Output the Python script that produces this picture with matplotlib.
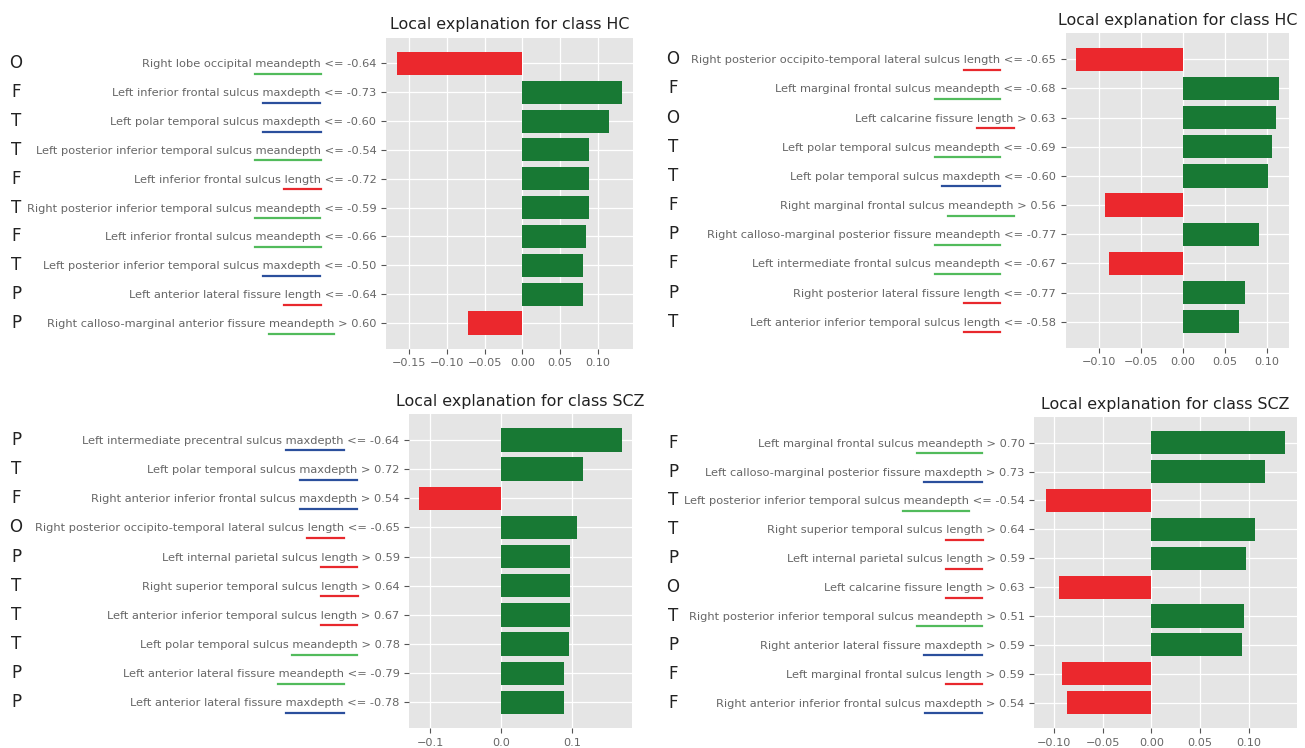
import numpy as np
import matplotlib
matplotlib.use("Agg")
import matplotlib.pyplot as plt
from matplotlib.lines import Line2D

# ---------------- data ----------------
titles = ["Local explanation for class HC", "Local explanation for class HC",
          "Local explanation for class SCZ", "Local explanation for class SCZ"]

labels_hc_a = ["Right lobe occipital meandepth <= -0.64",
               "Left inferior frontal sulcus maxdepth <= -0.73",
               "Left polar temporal sulcus maxdepth <= -0.60",
               "Left posterior inferior temporal sulcus meandepth <= -0.54",
               "Left inferior frontal sulcus length <= -0.72",
               "Right posterior inferior temporal sulcus meandepth <= -0.59",
               "Left inferior frontal sulcus meandepth <= -0.66",
               "Left posterior inferior temporal sulcus maxdepth <= -0.50",
               "Left anterior lateral fissure length <= -0.64",
               "Right calloso-marginal anterior fissure meandepth > 0.60"]
values_hc_a = [-0.166, 0.132, 0.115, 0.089, 0.089, 0.089, 0.085, 0.081, 0.081, -0.072]
lobes_hc_a = ["O", "F", "T", "T", "F", "T", "F", "T", "P", "P"]

labels_hc_b = ["Right posterior occipito-temporal lateral sulcus length <= -0.65",
               "Left marginal frontal sulcus meandepth <= -0.68",
               "Left calcarine fissure length > 0.63",
               "Left polar temporal sulcus meandepth <= -0.69",
               "Left polar temporal sulcus maxdepth <= -0.60",
               "Right marginal frontal sulcus meandepth > 0.56",
               "Right calloso-marginal posterior fissure meandepth <= -0.77",
               "Left intermediate frontal sulcus meandepth <= -0.67",
               "Right posterior lateral fissure length <= -0.77",
               "Left anterior inferior temporal sulcus length <= -0.58"]
values_hc_b = [-0.127, 0.114, 0.111, 0.106, 0.1015, -0.092, 0.091, -0.088, 0.074, 0.067]
lobes_hc_b = ["O", "F", "O", "T", "T", "F", "P", "F", "P", "T"]

labels_scz_a = ["Left intermediate precentral sulcus maxdepth <= -0.64",
                "Left polar temporal sulcus maxdepth > 0.72",
                "Right anterior inferior frontal sulcus maxdepth > 0.54",
                "Right posterior occipito-temporal lateral sulcus length <= -0.65",
                "Left internal parietal sulcus length > 0.59",
                "Right superior temporal sulcus length > 0.64",
                "Left anterior inferior temporal sulcus length > 0.67",
                "Left polar temporal sulcus meandepth > 0.78",
                "Left anterior lateral fissure meandepth <= -0.79",
                "Left anterior lateral fissure maxdepth <= -0.78"]
values_scz_a = [0.170, 0.115, -0.115, 0.107, 0.097, 0.097, 0.097, 0.096, 0.089, 0.089]
lobes_scz_a = ["P", "T", "F", "O", "P", "T", "T", "T", "P", "P"]

labels_scz_b = ["Left marginal frontal sulcus meandepth > 0.70",
                "Left calloso-marginal posterior fissure maxdepth > 0.73",
                "Left posterior inferior temporal sulcus meandepth <= -0.54",
                "Right superior temporal sulcus length > 0.64",
                "Left internal parietal sulcus length > 0.59",
                "Left calcarine fissure length > 0.63",
                "Right posterior inferior temporal sulcus meandepth > 0.51",
                "Right anterior lateral fissure maxdepth > 0.59",
                "Left marginal frontal sulcus length > 0.59",
                "Right anterior inferior frontal sulcus maxdepth > 0.54"]
values_scz_b = [0.1375, 0.117, -0.108, 0.107, 0.097, -0.0945, 0.095, 0.093, -0.092, -0.087]
lobes_scz_b = ["F", "P", "T", "T", "P", "O", "T", "P", "F", "F"]

xticks_a = [-0.15, -0.10, -0.05, 0.00, 0.05, 0.10]
xticks_b = [-0.10, -0.05, 0.00, 0.05, 0.10]
xticks_c = [-0.1, 0.0, 0.1]
xticks_d = [-0.10, -0.05, 0.00, 0.05, 0.10]

feature_kinds = ["meandepth", "maxdepth", "length"]
kind_colors = {"meandepth": "#52bb5c", "maxdepth": "#2b4f9c", "length": "#e8282d"}

# ---------------- style ----------------
plt.style.use("ggplot")
W, H = 1305, 748
fig = plt.figure(figsize=(W / 100, H / 100), dpi=100, facecolor="white")

POS_COLOR = "#187934"
NEG_COLOR = "#eb282d"

panels = [
    (labels_hc_a, values_hc_a, lobes_hc_a, titles[0], xticks_a, "{:.2f}"),
    (labels_hc_b, values_hc_b, lobes_hc_b, titles[1], xticks_b, "{:.2f}"),
    (labels_scz_a, values_scz_a, lobes_scz_a, titles[2], xticks_c, "{:.1f}"),
    (labels_scz_b, values_scz_b, lobes_scz_b, titles[3], xticks_d, "{:.2f}"),
]
# axes boxes in pixels (x0, y0top, x1, y1bottom)
boxes = [(386, 37.7, 633, 348.7), (1065.7, 33.3, 1289, 347.7),
         (409.3, 414, 631.7, 728.3), (1034.3, 417, 1297, 728.3)]
letter_x = [16, 673, 16, 673]

axes = []
for (labels, vals, lobes, title, xt, fmt), (x0, y0, x1, y1) in zip(panels, boxes):
    ax = fig.add_axes([x0 / W, 1 - y1 / H, (x1 - x0) / W, (y1 - y0) / H])
    n = len(vals)
    pos = np.arange(n)[::-1]
    colors = [POS_COLOR if v > 0 else NEG_COLOR for v in vals]
    ax.barh(pos, vals, height=0.8, color=colors)
    ax.set_yticks(pos)
    ax.set_yticklabels(labels, fontsize=8.2, color="#666666")
    ax.set_xticks(xt)
    ax.set_xticklabels([fmt.format(t).replace("-", "\u2212") for t in xt],
                       fontsize=8.1, color="#666666")
    ax.set_title(title, fontsize=11.4, color="#222222")
    ax.grid(True, color="white", linewidth=0.9)
    for s in ax.spines.values():
        s.set_visible(False)
    axes.append(ax)

fig.canvas.draw()
renderer = fig.canvas.get_renderer()

for ax, (labels, vals, lobes, title, xt, fmt), lx in zip(axes, panels, letter_x):
    n = len(vals)
    pos = np.arange(n)[::-1]
    for lab, p, lobe in zip(ax.get_yticklabels(), pos, lobes):
        yd = ax.transData.transform((0, p))[1]
        fig.text(lx / W, yd / H, lobe, ha="center", va="center",
                 fontsize=12, color="#222222")
        s = lab.get_text()
        bb = lab.get_window_extent(renderer)
        prop = lab.get_fontproperties()
        for kind in feature_kinds:
            idx = s.rfind(" " + kind + " ")
            if idx >= 0:
                head = s[:idx + 1 + len(kind)]
                w_head = renderer.get_text_width_height_descent(head, prop, ismath=False)[0]
                w_word = renderer.get_text_width_height_descent(kind, prop, ismath=False)[0]
                xe = bb.x0 + w_head
                xs = xe - w_word
                yl = yd - 10.5
                fig.add_artist(Line2D([xs / W, xe / W], [yl / H, yl / H],
                                      transform=fig.transFigure,
                                      color=kind_colors[kind], linewidth=1.6))
                break

fig.savefig("out.png", dpi=100, facecolor="white")
